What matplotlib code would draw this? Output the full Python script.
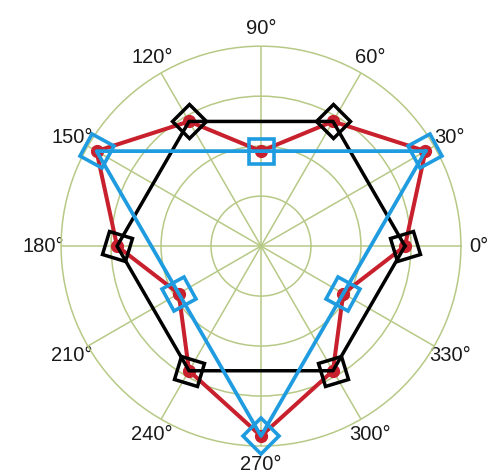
import numpy as np
import matplotlib
matplotlib.use("Agg")
import matplotlib.pyplot as plt
from matplotlib.markers import MarkerStyle
from matplotlib.transforms import Affine2D

plt.rcParams['font.family'] = ['Liberation Sans', 'DejaVu Sans']

# 12-point outline (every 30 degrees)
red_theta_deg = [0, 30, 60, 90, 120, 150, 180, 210, 240, 270, 300, 330]
red_r = [0.72, 0.95, 0.72, 0.475, 0.72, 0.95, 0.72, 0.475, 0.72, 0.95, 0.72, 0.475]

# hexagon
black_theta_deg = [0, 60, 120, 180, 240, 300]
black_r = [0.72, 0.72, 0.72, 0.72, 0.72, 0.72]

# triangle with edge midpoints
blue_theta_deg = [30, 90, 150, 210, 270, 330]
blue_r = [0.95, 0.475, 0.95, 0.475, 0.95, 0.475]

angle_labels = [f"{a}°" for a in range(0, 360, 30)]

# square marker tilt for each vertex (degrees)
black_tilt = [18, 45, 45, -18, -18, 18]
blue_tilt = [30, 0, -30, 30, 45, -30]

RED = '#C8202C'
BLUE = '#1F9BE0'
GRID = '#B7C986'

fig = plt.figure(figsize=(4.92, 4.76), dpi=100)
ax = fig.add_axes([0.124, 0.063, 0.813, 0.840], projection='polar')


def closed(theta_deg, r):
    t = np.deg2rad(list(theta_deg) + [theta_deg[0]])
    return t, list(r) + [r[0]]


# red outline with dots
t, r = closed(red_theta_deg, red_r)
ax.plot(t, r, color=RED, lw=2.9, zorder=3, clip_on=False)
ax.plot(np.deg2rad(red_theta_deg), red_r, 'o', color=RED, ms=8.5, zorder=3,
        clip_on=False)

# black hexagon
t, r = closed(black_theta_deg, black_r)
ax.plot(t, r, color='black', lw=2.5, zorder=4, clip_on=False)
for th, rr, tilt in zip(black_theta_deg, black_r, black_tilt):
    m = MarkerStyle('s', transform=Affine2D().rotate_deg(tilt))
    ax.plot(np.deg2rad(th), rr, marker=m, ms=17, mfc='none', mec='black',
            mew=2.5, zorder=4, clip_on=False)

# blue triangle
t, r = closed(blue_theta_deg, blue_r)
ax.plot(t, r, color=BLUE, lw=2.7, zorder=5, clip_on=False)
for th, rr, tilt in zip(blue_theta_deg, blue_r, blue_tilt):
    m = MarkerStyle('s', transform=Affine2D().rotate_deg(tilt))
    ax.plot(np.deg2rad(th), rr, marker=m, ms=18, mfc='none', mec=BLUE,
            mew=2.6, zorder=5, clip_on=False)

ax.set_ylim(0, 1)
ax.set_rgrids([0.25, 0.5, 0.75], labels=[])
ax.set_thetagrids(range(0, 360, 30), labels=angle_labels, fontsize=14.5,
                  color='#1a1a1a')
ax.tick_params(axis='x', pad=2.5)
ax.grid(True, color=GRID, lw=1.1)
ax.spines['polar'].set_color(GRID)
ax.spines['polar'].set_linewidth(1.1)
ax.set_facecolor('white')

fig.savefig('out.png', dpi=100, facecolor='white')
